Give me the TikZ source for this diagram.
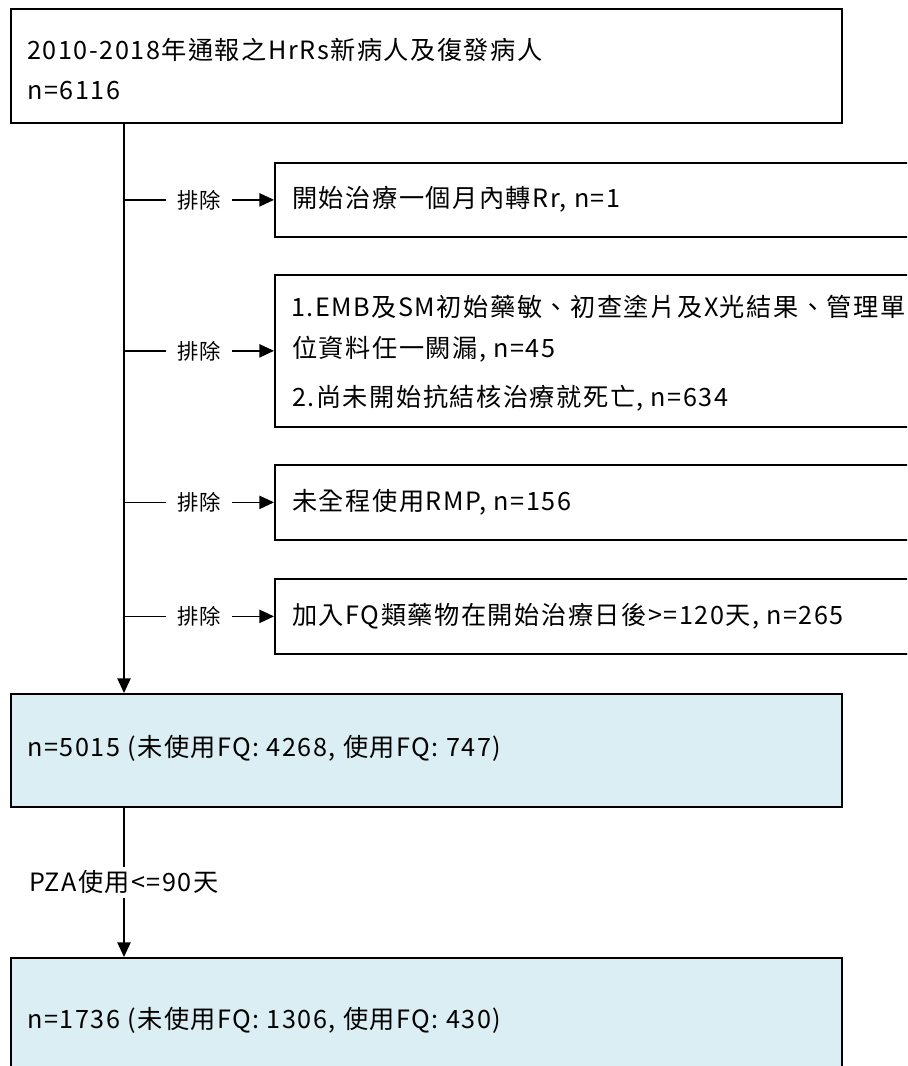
\documentclass[tikz,border=0pt]{standalone}
\usepackage{fontspec}
\setmainfont{Noto Sans CJK TC}
\newfontfamily\spacedfont[LetterSpace=6]{Noto Sans CJK TC}
\usetikzlibrary{arrows.meta}
\definecolor{boxblue}{RGB}{218,238,243}
\begin{document}
\begin{tikzpicture}[x=0.75pt,y=-0.75pt,
  box/.style={draw=black,line width=1.3pt,fill=white,inner sep=0pt},
  bluebox/.style={box,fill=boxblue},
  txt/.style={anchor=west,inner sep=0pt,font=\spacedfont\fontsize{18.9}{22}\selectfont},
  lbl/.style={fill=white,inner xsep=8.5pt,inner ysep=5pt,font=\fontsize{16}{19}\selectfont},
  conn/.style={line width=1pt},
  arr/.style={conn,-{Triangle[length=11pt,width=10pt]}}]
\clip (0,0) rectangle (907,1066);
\useasboundingbox (0,0) rectangle (907,1066);
% boxes
\node[box,minimum width=831*0.75pt,minimum height=114*0.75pt,anchor=north west] (top) at (10,8) {};
\node[box,minimum width=650*0.75pt,minimum height=74*0.75pt,anchor=north west] (ex1) at (274,162) {};
\node[box,minimum width=650*0.75pt,minimum height=152*0.75pt,anchor=north west] (ex2) at (274,274) {};
\node[box,minimum width=650*0.75pt,minimum height=75*0.75pt,anchor=north west] (ex3) at (274,464) {};
\node[box,minimum width=650*0.75pt,minimum height=75*0.75pt,anchor=north west] (ex4) at (274,578) {};
\node[bluebox,minimum width=831*0.75pt,minimum height=113*0.75pt,anchor=north west] (b5) at (10,693) {};
\node[bluebox,minimum width=831*0.75pt,minimum height=150*0.75pt,anchor=north west] (b6) at (10,957) {};
% texts
\node[txt] (t0a) at (27,50) {2010-2018年通報之HrRs新病人及復發病人};
\node[txt] (t0b) at (27,91) {n=6116};
\node[txt] (t1) at (292,199) {開始治療一個月內轉Rr, n=1};
\node[txt] (t2a) at (291,307) {1.EMB及SM初始藥敏、初查塗片及X光結果、管理單};
\node[txt] (t2b) at (292,349) {位資料任一闕漏, n=45};
\node[txt] (t2c) at (292,398) {2.尚未開始抗結核治療就死亡, n=634};
\node[txt] (t3) at (292,502) {未全程使用RMP, n=156};
\node[txt] (t4) at (292,616) {加入FQ類藥物在開始治療日後>=120天, n=265};
\node[txt] (t5) at (27,748) {n=5015 (未使用FQ: 4268, 使用FQ: 747)};
\node[txt] (t6) at (27,1020) {n=1736 (未使用FQ: 1306, 使用FQ: 430)};
% connectors
\coordinate (main) at (124,0);
\draw[arr] (top.south -| main) -- (b5.north -| main);
\foreach \e in {ex1,ex2,ex3,ex4}{
  \draw[arr] (\e.west -| main) -- node[lbl]{排除} (\e.west);
}
\draw[arr] (b5.south -| main) -- node[lbl,inner xsep=1pt,inner ysep=3pt,font=\spacedfont\fontsize{18.9}{22}\selectfont]{PZA使用<=90天} (b6.north -| main);
\end{tikzpicture}
\end{document}
